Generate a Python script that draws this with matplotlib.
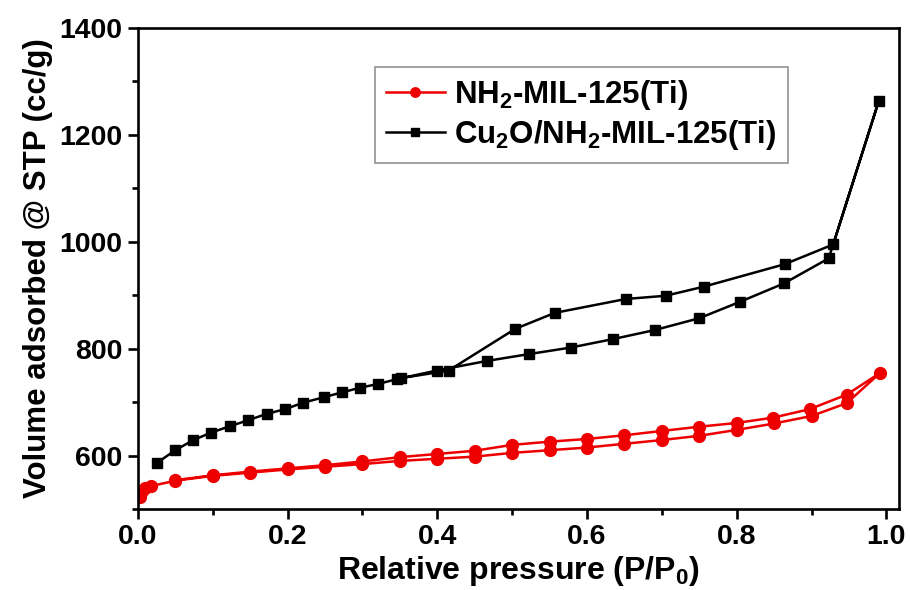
import matplotlib
matplotlib.use("Agg")
import matplotlib.pyplot as plt
import numpy as np

plt.rcParams['font.family'] = ['Liberation Sans', 'DejaVu Sans']
plt.rcParams['font.weight'] = 'bold'
plt.rcParams['mathtext.fontset'] = 'custom'
plt.rcParams['mathtext.rm'] = 'Liberation Sans:bold'
plt.rcParams['mathtext.bf'] = 'Liberation Sans:bold'
plt.rcParams['mathtext.default'] = 'bf'

# NH2-MIL-125(Ti)
nh2_ads_x = [0.003, 0.006, 0.010, 0.018, 0.05, 0.10, 0.15, 0.20, 0.25, 0.30, 0.35, 0.40, 0.45,
             0.50, 0.55, 0.60, 0.65, 0.70, 0.75, 0.80, 0.85, 0.90, 0.947, 0.992]
nh2_ads_y = [523, 533, 540, 543, 553, 562, 568, 574, 579, 584, 590, 594, 598,
             605, 610, 615, 622, 629, 637, 648, 660, 674, 698, 755]
nh2_des_x = [0.947, 0.898, 0.849, 0.80, 0.75, 0.70, 0.65, 0.60, 0.55, 0.50, 0.45, 0.40,
             0.35, 0.30, 0.25, 0.20, 0.15, 0.10, 0.05]
nh2_des_y = [714, 687, 671, 661, 654, 646, 638, 631, 626, 620, 609, 603,
             597, 589, 582, 576, 570, 563, 554]

# Cu2O/NH2-MIL-125(Ti)
cu_ads_x = [0.025, 0.050, 0.074, 0.098, 0.123, 0.147, 0.172, 0.197, 0.221, 0.248, 0.272,
            0.297, 0.321, 0.346, 0.399, 0.466, 0.523, 0.578, 0.635, 0.691, 0.750, 0.805,
            0.863, 0.923, 0.990]
cu_ads_y = [586, 610, 629, 643, 655, 666, 678, 687, 699, 709, 718,
            727, 734, 743, 759, 777, 790, 802, 818, 835, 857, 888,
            922, 969, 1264]
cu_des_x = [0.929, 0.864, 0.756, 0.705, 0.652, 0.557, 0.504, 0.415, 0.352]
cu_des_y = [995, 958, 916, 899, 893, 867, 837, 759, 745]

labels = ['NH$_2$-MIL-125(Ti)', 'Cu$_2$O/NH$_2$-MIL-125(Ti)']

fig = plt.figure(figsize=(9.10, 5.90), dpi=100)
ax = fig.add_axes([0.1516, 0.1373, 0.8364, 0.8152])

ax.plot(nh2_ads_x + nh2_des_x, nh2_ads_y + nh2_des_y, color='#ee0000', lw=1.8,
        marker='o', ms=8.5, label=labels[0])
ax.plot(cu_ads_x + cu_des_x, cu_ads_y + cu_des_y, color='black', lw=1.8,
        marker='s', ms=6.5, label=labels[1])

ax.set_xlim(0, 1.017)
ax.set_ylim(500, 1400)
ax.set_xticks([0.0, 0.2, 0.4, 0.6, 0.8, 1.0])
ax.set_xticks(np.arange(0.1, 1.0, 0.2), minor=True)
ax.set_yticks([600, 800, 1000, 1200, 1400])
ax.set_yticks([500, 700, 900, 1100, 1300], minor=True)
ax.xaxis.set_major_formatter(matplotlib.ticker.FormatStrFormatter('%.1f'))

for s in ax.spines.values():
    s.set_linewidth(1.9)
ax.tick_params(which='major', direction='out', length=7, width=1.9, labelsize=20.5, pad=4)
ax.tick_params(which='minor', direction='out', length=4, width=1.9)
for lab in ax.get_xticklabels() + ax.get_yticklabels():
    lab.set_fontweight('bold')

ax.set_xlabel('Relative pressure (P/P$_0$)', fontsize=23, fontweight='bold', labelpad=3)
ax.set_ylabel('Volume adsorbed @ STP (cc/g)', fontsize=22.5, fontweight='bold', labelpad=5)

leg = ax.legend(loc='upper left', bbox_to_anchor=(0.311, 0.919), borderaxespad=0,
                fontsize=22.5, frameon=True, fancybox=False, edgecolor='#777777',
                handlelength=1.9, borderpad=0.35, labelspacing=0.2, handletextpad=0.3,
                markerscale=0.8)
leg.get_frame().set_linewidth(1.2)

fig.savefig('out.png', dpi=100)
